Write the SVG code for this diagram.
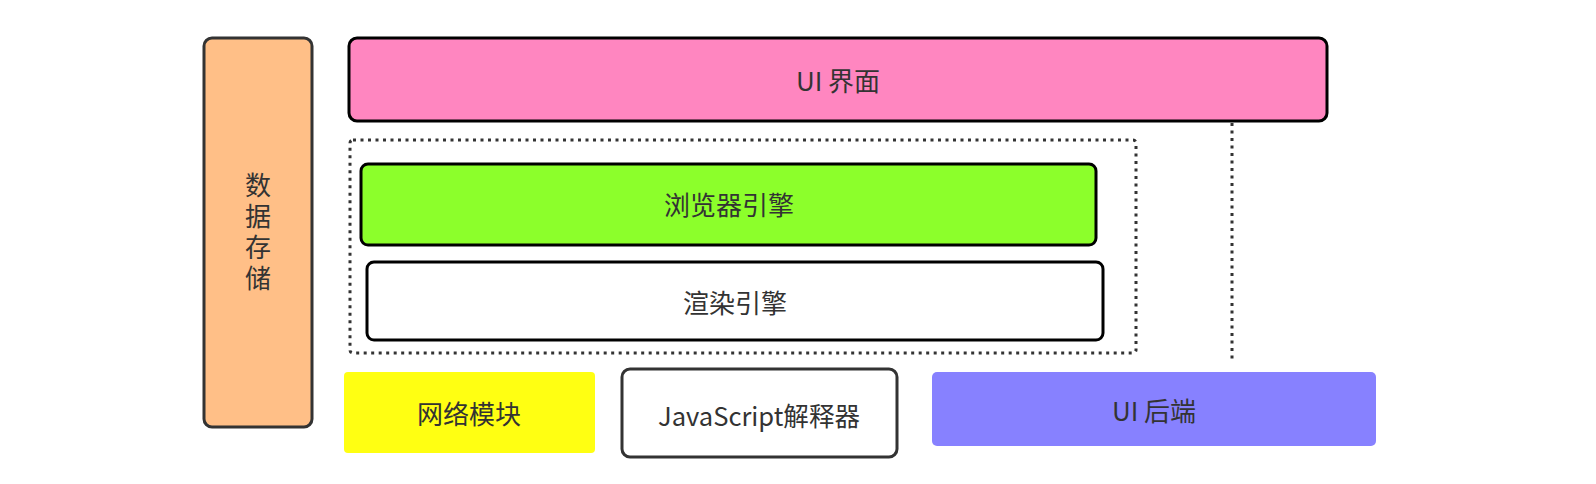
<svg xmlns="http://www.w3.org/2000/svg" width="1596" height="484" viewBox="0 0 1596 484">
<style>
text{font-family:"Noto Sans CJK SC","Noto Sans",sans-serif;font-size:26px;fill:#333;text-anchor:middle;dominant-baseline:central}
.vert{writing-mode:vertical-rl;letter-spacing:5px}
.box{stroke-width:3}
.dot{fill:none;stroke:#333;stroke-width:3;stroke-dasharray:3 4.5}
</style>
<rect width="1596" height="484" fill="#fff"/>
<g id="storage">
<rect class="box" x="204" y="38" width="108" height="389" rx="8" fill="#FFBF87" stroke="#333"/>
<text class="vert" x="258" y="234">数据存储</text>
</g>
<g id="ui">
<rect class="box" x="349" y="38" width="978" height="83" rx="8" fill="#FF86C0" stroke="#000"/>
<text x="838" y="79">UI 界面</text>
</g>
<g id="engine-group">
<rect class="dot" x="350" y="140" width="786" height="213" rx="3"/>
</g>
<g id="browser-engine">
<rect class="box" x="361" y="164" width="735" height="81" rx="7" fill="#8CFF2B" stroke="#000"/>
<text x="729" y="203">浏览器引擎</text>
</g>
<g id="render-engine">
<rect class="box" x="367" y="262" width="736" height="78" rx="7" fill="#fff" stroke="#000"/>
<text x="735" y="301">渲染引擎</text>
</g>
<g id="network">
<rect x="344" y="372" width="251" height="81" rx="4" fill="#FFFF12"/>
<text x="469" y="412">网络模块</text>
</g>
<g id="js">
<rect class="box" x="622" y="369" width="275" height="88" rx="8" fill="#fff" stroke="#333"/>
<text x="759" y="414" textLength="202" lengthAdjust="spacingAndGlyphs">JavaScript解释器</text>
</g>
<g id="ui-backend">
<rect x="932" y="372" width="444" height="74" rx="5" fill="#8781FF"/>
<text x="1154" y="409">UI 后端</text>
</g>
<g id="connectors">
<line class="dot" x1="1232" y1="123" x2="1232" y2="363"/>
</g>
</svg>
